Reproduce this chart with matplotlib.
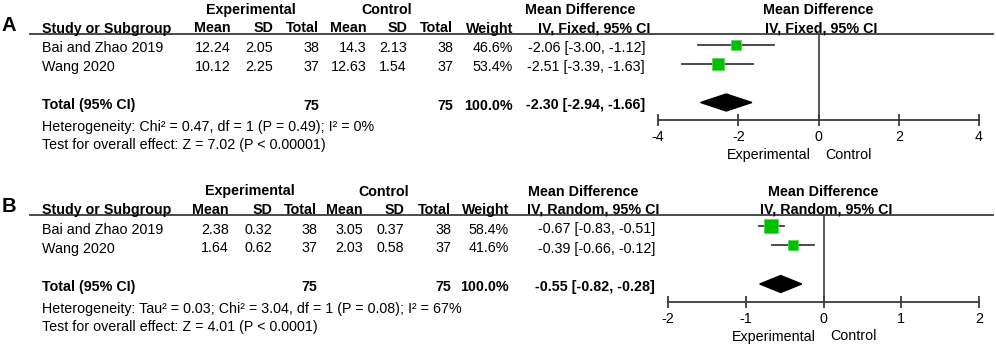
import matplotlib
matplotlib.use('Agg')
import matplotlib.pyplot as plt
from matplotlib.patches import Polygon

plt.rcParams['font.family'] = ['Liberation Sans', 'DejaVu Sans']
plt.rcParams['axes.unicode_minus'] = False

W, H = 996, 345
FS = 10.3
GRID = '#3c3c3c'

#### data

studies = ['Bai and Zhao 2019', 'Wang 2020']

## A: fixed effect
a_exp_mean = [12.24, 10.12]
a_exp_sd = [2.05, 2.25]
a_exp_n = [38, 37]
a_ctl_mean = [14.3, 12.63]
a_ctl_sd = [2.13, 1.54]
a_ctl_n = [38, 37]
a_weight = [46.6, 53.4]
a_md = [-2.06, -2.51]
a_lo = [-3.00, -3.39]
a_hi = [-1.12, -1.63]
a_total = [-2.30, -2.94, -1.66]
a_total_n = [75, 75]
a_ticks = [-4, -2, 0, 2, 4]
a_model = 'IV, Fixed, 95% CI'
a_het = 'Heterogeneity: Chi² = 0.47, df = 1 (P = 0.49); I² = 0%'
a_test = 'Test for overall effect: Z = 7.02 (P < 0.00001)'

## B: random effects
b_exp_mean = [2.38, 1.64]
b_exp_sd = [0.32, 0.62]
b_exp_n = [38, 37]
b_ctl_mean = [3.05, 2.03]
b_ctl_sd = [0.37, 0.58]
b_ctl_n = [38, 37]
b_weight = [58.4, 41.6]
b_md = [-0.67, -0.39]
b_lo = [-0.83, -0.66]
b_hi = [-0.51, -0.12]
b_total = [-0.55, -0.82, -0.28]
b_total_n = [75, 75]
b_ticks = [-2, -1, 0, 1, 2]
b_model = 'IV, Random, 95% CI'
b_het = 'Heterogeneity: Tau² = 0.03; Chi² = 3.04, df = 1 (P = 0.08); I² = 67%'
b_test = 'Test for overall effect: Z = 4.01 (P < 0.0001)'


fig = plt.figure(figsize=(W / 100, H / 100), dpi=100)
bg = fig.add_axes([0, 0, 1, 1])
bg.set_xlim(0, W)
bg.set_ylim(H, 0)
bg.axis('off')


def txt(x, y, s, ha='left', bold=False, size=FS):
    bg.text(x, y, s, ha=ha, va='baseline', fontsize=size,
            fontweight='bold' if bold else 'normal', color='black')


def panel(dy, letter, cols, weight, md, lo, hi, total, total_n, ticks,
          model, het, test, plot_x, zero_x):
    # label
    txt(2, dy + 31, letter, bold=True, size=14.5)
    # header row 1
    txt(cols['exp_c'], dy + 14, 'Experimental', ha='center', bold=True)
    txt(cols['ctl_c'], dy + 14, 'Control', ha='center', bold=True)
    txt(cols['md_c'], dy + 14, 'Mean Difference', ha='center', bold=True)
    txt(zero_x, dy + 14, 'Mean Difference', ha='center', bold=True)
    # header row 2
    hb = dy + 32.5
    txt(42, hb, 'Study or Subgroup', bold=True)
    for key, lab in [('em', 'Mean'), ('es', 'SD'), ('en', 'Total'),
                     ('cm', 'Mean'), ('cs', 'SD'), ('cn', 'Total'),
                     ('w', 'Weight')]:
        txt(cols[key], hb, lab, ha='right', bold=True)
    txt(cols['ci_c'], hb, model, ha='center', bold=True)
    txt(zero_x + 3, hb, model, ha='center', bold=True)
    bg.plot([30, 993], [dy + 33.5, dy + 33.5], color=GRID, lw=1.3)

    rows = [dy + 52, dy + 71]
    em, es, en, cm, cs, cn = cols['data']
    for i, name in enumerate(studies):
        y = rows[i]
        txt(42, y, name)
        txt(cols['em'], y, str(em[i]), ha='right')
        txt(cols['es'], y, str(es[i]), ha='right')
        txt(cols['en'], y, str(en[i]), ha='right')
        txt(cols['cm'], y, str(cm[i]), ha='right')
        txt(cols['cs'], y, str(cs[i]), ha='right')
        txt(cols['cn'], y, str(cn[i]), ha='right')
        txt(cols['w'], y, f'{weight[i]:.1f}%', ha='right')
        txt(cols['ci_r'], y, f'{md[i]:.2f} [{lo[i]:.2f}, {hi[i]:.2f}]', ha='right')

    ty = dy + 109.5
    txt(42, ty, 'Total (95% CI)', bold=True)
    txt(cols['en'], ty, str(total_n[0]), ha='right', bold=True)
    txt(cols['cn'], ty, str(total_n[1]), ha='right', bold=True)
    txt(cols['w'], ty, '100.0%', ha='right', bold=True)
    txt(cols['ci_r'], ty, f'{total[0]:.2f} [{total[1]:.2f}, {total[2]:.2f}]',
        ha='right', bold=True)
    txt(42, dy + 131, het)
    txt(42, dy + 149, test)

    # forest plot, y in figure pixels
    top, bot = dy + 33.5, dy + 120
    x0, x1 = plot_x
    ax = fig.add_axes([x0 / W, 1 - bot / H, (x1 - x0) / W, (bot - top) / H])
    ax.set_xlim(ticks[0], ticks[-1])
    ax.set_ylim(bot, top)
    ax.patch.set_visible(False)
    for s in ['top', 'left', 'right']:
        ax.spines[s].set_visible(False)
    ax.spines['bottom'].set_color(GRID)
    ax.spines['bottom'].set_linewidth(1.3)
    ax.set_xticks(ticks)
    ax.set_xticklabels([str(t) for t in ticks])
    ax.tick_params(axis='x', direction='inout', length=9, width=1.3,
                   color=GRID, labelsize=FS, pad=3)
    ax.set_yticks([])
    ax.axvline(0, color=GRID, lw=1.2)

    for i in range(len(studies)):
        y = rows[i] - 7.5
        ax.plot([lo[i], hi[i]], [y, y], color=GRID, lw=1.3, zorder=2)
        ax.plot(md[i], y, marker='s', ms=0.23 * weight[i] * 0.72,
                color='#00c000', mec='#5ad85a', mew=0.6, zorder=3)
    cy = ty - 7
    dia = Polygon([[total[1], cy], [total[0], cy - 8.5], [total[2], cy],
                   [total[0], cy + 8.5]], closed=True, color='black', zorder=3)
    ax.add_patch(dia)

    txt(zero_x - 8, dy + 159, 'Experimental', ha='right')
    txt(zero_x + 7, dy + 159, 'Control', ha='left')


cols_a = dict(exp_c=251, ctl_c=387, md_c=580, em=231, es=273, en=319,
              cm=367, cs=407, cn=453, w=513, ci_c=594, ci_r=645,
              data=(a_exp_mean, a_exp_sd, a_exp_n, a_ctl_mean, a_ctl_sd, a_ctl_n))
cols_b = dict(exp_c=250, ctl_c=384, md_c=583, em=229, es=272, en=317,
              cm=363, cs=404, cn=451, w=509, ci_c=593, ci_r=655,
              data=(b_exp_mean, b_exp_sd, b_exp_n, b_ctl_mean, b_ctl_sd, b_ctl_n))

panel(0, 'A', cols_a, a_weight, a_md, a_lo, a_hi, a_total, a_total_n,
      a_ticks, a_model, a_het, a_test, (658, 979), 818.5)
panel(181.5, 'B', cols_b, b_weight, b_md, b_lo, b_hi, b_total, b_total_n,
      b_ticks, b_model, b_het, b_test, (668, 979), 823.5)

fig.savefig('out.png', dpi=100)
